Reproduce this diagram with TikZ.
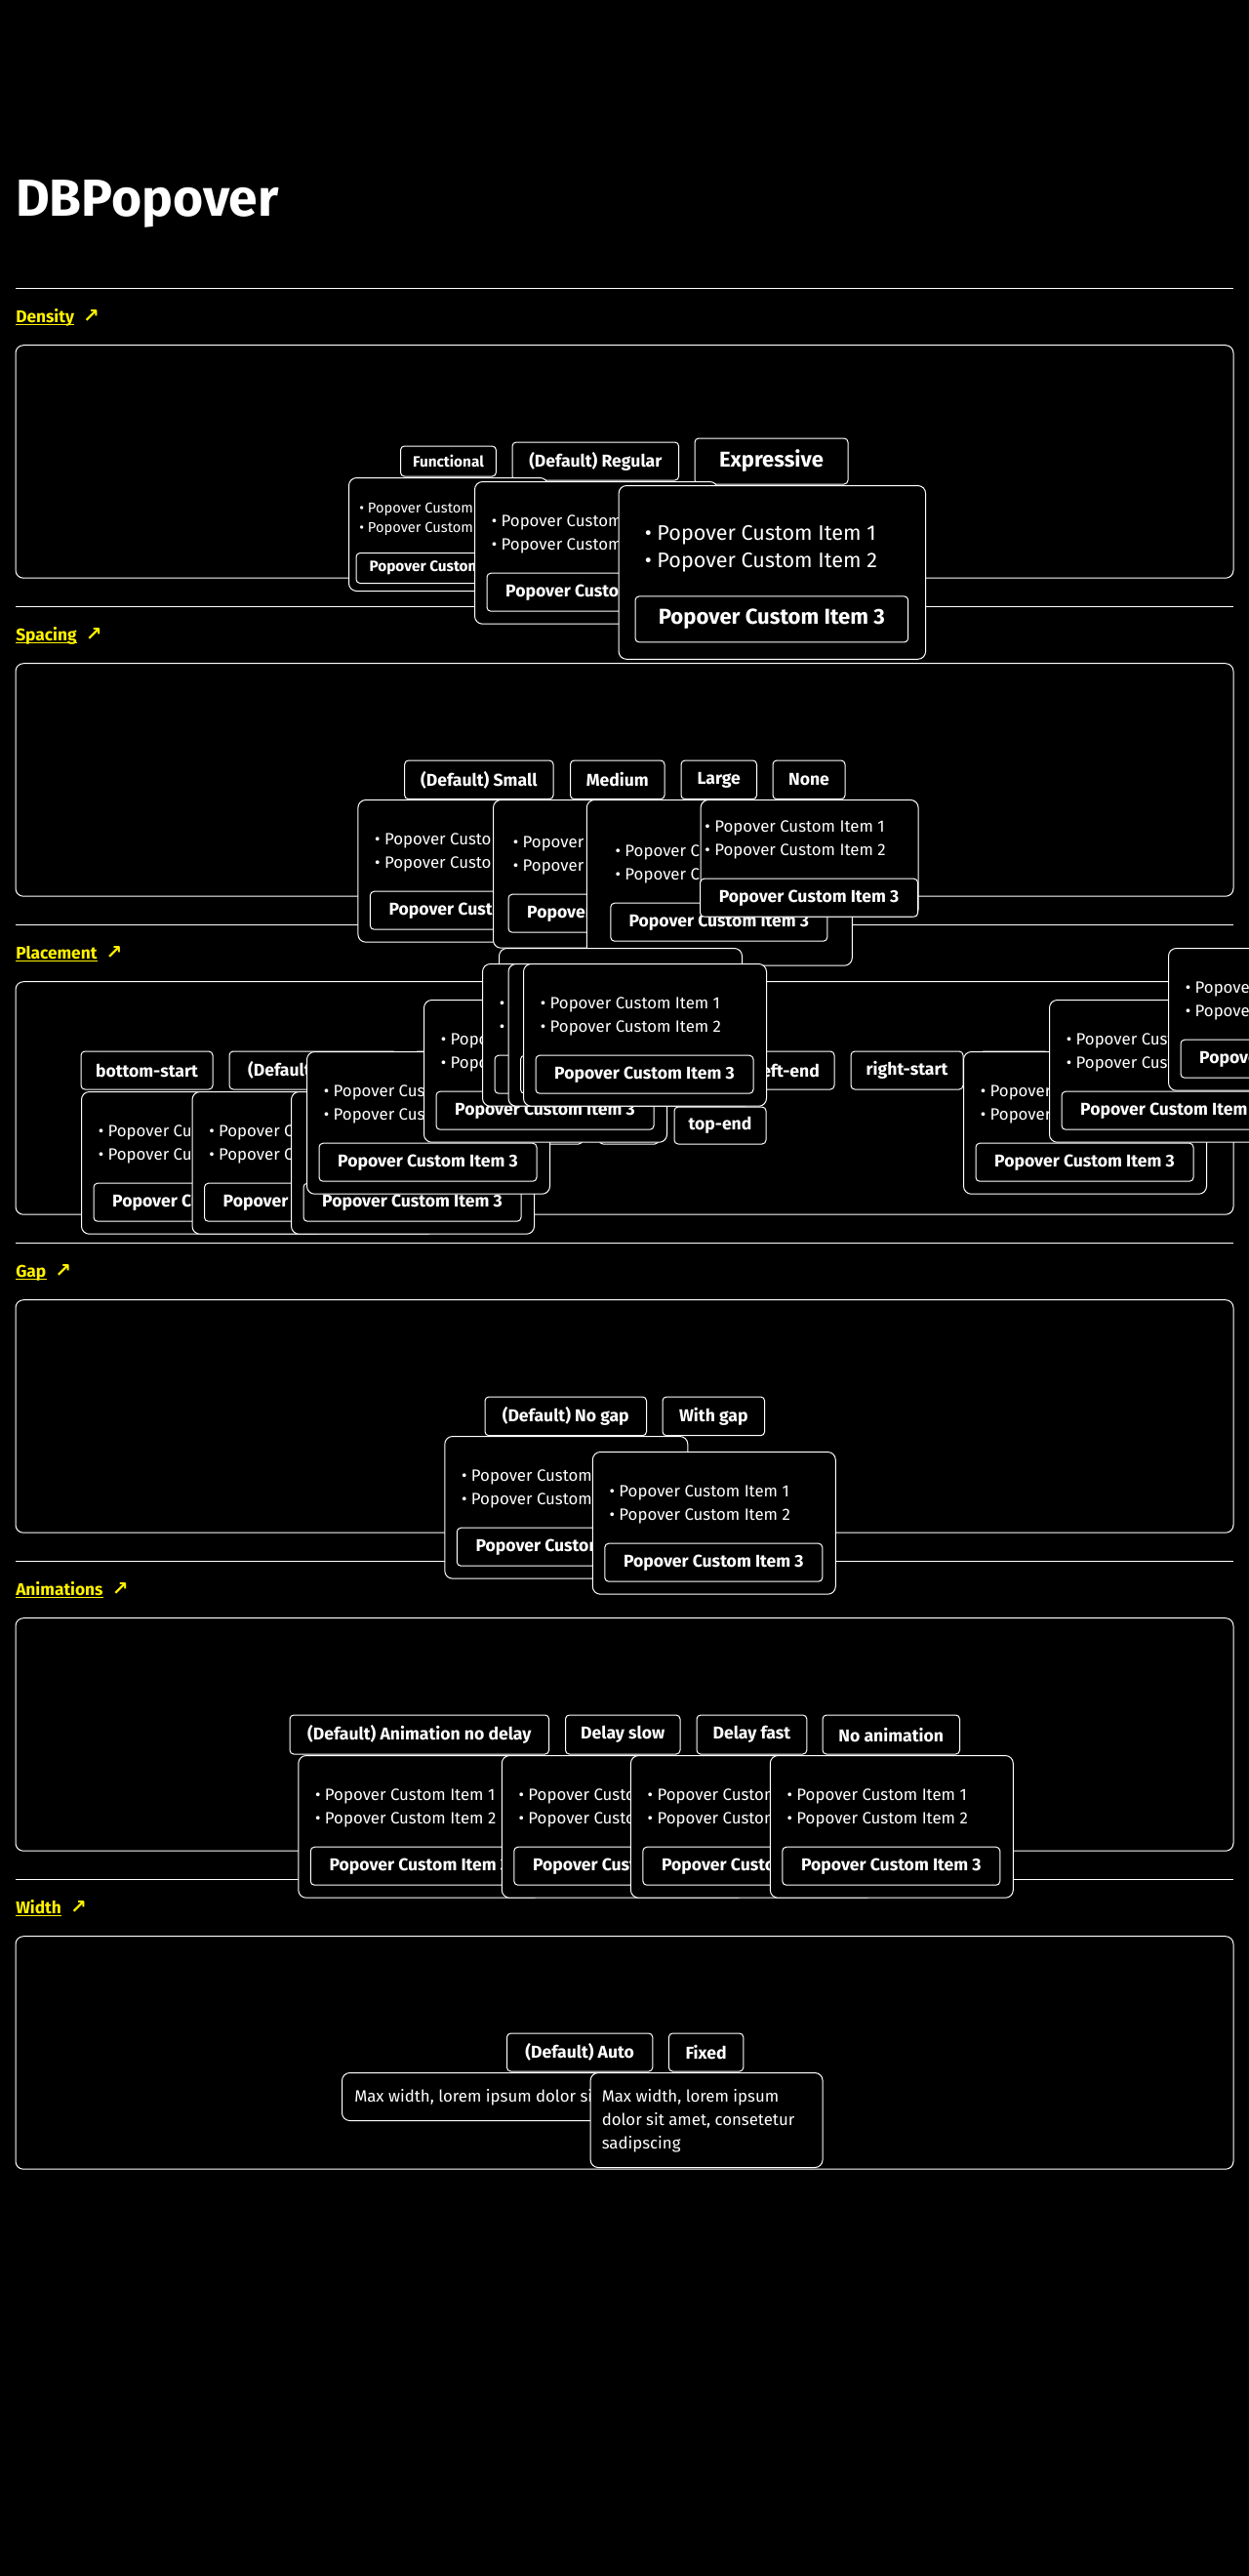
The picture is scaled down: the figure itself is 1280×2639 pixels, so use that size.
\documentclass[tikz,border=0pt]{standalone}
\usepackage{fontspec}
\setmainfont{Fira Sans}
\newfontfamily\arrowfont{DejaVu Sans}

\newcommand\px{0.75pt}
% popover looks: padding, list offset, line step, gap, button height, indent, fonts
\newcommand\denseregular{\def\popP{13}\def\popT{29.7}\def\popS{24}\def\popG{27}\def\popB{39}\def\popI{4.5}%
  \def\popFont{\fontsize{12.6}{15}\selectfont}\def\popBold{\bfseries\fontsize{13.2}{15}\selectfont}}
\newcommand\densefunctional{\def\popP{8}\def\popT{25}\def\popS{20}\def\popG{24}\def\popB{31}\def\popI{3}%
  \def\popFont{\fontsize{11}{13}\selectfont}\def\popBold{\bfseries\fontsize{11.5}{13}\selectfont}}
\newcommand\denseexpressive{\def\popP{17.4}\def\popT{34}\def\popS{28}\def\popG{34}\def\popB{47}\def\popI{9.5}%
  \def\popFont{\fontsize{16.2}{19}\selectfont}\def\popBold{\bfseries\fontsize{16.6}{19}\selectfont}}
\newcommand\padding[1]{\denseregular\def\popP{#1}}

\tikzset{
  rule/.style={white, line width=0.75pt},
  frame/.style={draw=white, line width=0.75pt, rounded corners=6pt},
  card/.style={draw=white, fill=black, line width=0.75pt, rounded corners=6pt, inner sep=0pt},
  trigger/.style={draw=white, fill=black, line width=0.75pt, rounded corners=3pt, inner sep=0pt,
    text=white, font=\bfseries\fontsize{13.2}{15}\selectfont},
  item/.style={text=white, inner sep=0pt, anchor=west, font=\fontsize{12.6}{15}\selectfont},
  heading/.style={text=yellow, inner sep=0pt, anchor=base west, font=\bfseries\fontsize{13}{15}\selectfont},
  link/.style={yellow, line width=0.9pt}
}

% trigger button from its corners
\newcommand{\trig}[6][]{%
  \node[trigger, #1, minimum width={(#5-#3)*\px}, minimum height={(#6-#4)*\px}]
    (#2) at ({(#3+#5)/2},{(#4+#6)/2}) {\trigtext};}
\newcommand{\trigger}[7][]{\def\trigtext{#7}\trig[#1]{#2}{#3}{#4}{#5}{#6}}

% popover: name, left, top, width
\newcommand{\popover}[5][\denseregular]{%
  \begingroup#1%
  \pgfmathsetmacro\ya{#4+\popP+\popT}%
  \pgfmathsetmacro\yb{\ya+\popS}%
  \pgfmathsetmacro\yc{\yb+\popG}%
  \pgfmathsetmacro\yd{\yc+\popB+\popP}%
  \node[card, anchor=north west, minimum width={#5*\px}, minimum height={(\yd-#4)*\px}] (#2) at (#3,#4) {};
  \node[item, font=\popFont] (#2-1) at (#3+\popP+\popI,\ya) {• Popover Custom Item 1};
  \node[item, font=\popFont] (#2-2) at (#3+\popP+\popI,\yb) {• Popover Custom Item 2};
  \node[trigger, font=\popBold, anchor=north, minimum width={(#5-2*\popP)*\px}, minimum height={\popB*\px}]
    (#2-3) at (#3+#5/2,\yc) {Popover Custom Item 3};
  \endgroup}

\begin{document}
\begin{tikzpicture}[x=0.75pt, y=-0.75pt]
\useasboundingbox[fill=black] (0,0) rectangle (1280,2639);

\node[anchor=base west, inner sep=0pt, text=white, font=\bfseries\fontsize{40}{48}\selectfont] (title) at (16,221.7) {DBPopover};

% sections
\foreach \name [count=\i from 0] in {Density,Spacing,Placement,Gap,Animations,Width}{
  \pgfmathsetmacro\yy{295.7+326*\i}
  \draw[rule] (16,\yy) -- (1264,\yy);
  \node[heading] (head\i) at (16,\yy+35) {\name};
  \draw[link] ([yshift=-1.6pt]head\i.base west) -- ([yshift=-1.6pt]head\i.base east);
  \node[heading, font=\arrowfont\bfseries\fontsize{15}{17}\selectfont] (go\i) at ([xshift=6.5pt]head\i.base east) {↗};
  \draw[frame] (16,\yy+58) rectangle (1264,\yy+296.5);
}

% density
\trigger[font=\bfseries\fontsize{11.5}{13}\selectfont]{dfun}{410.5}{457}{508.4}{488}{Functional}
\trigger{dreg}{525}{453}{695.6}{492}{(Default) Regular}
\trigger[font=\bfseries\fontsize{16.5}{19}\selectfont]{dexp}{712}{449}{869}{496}{Expressive}
\popover[\densefunctional]{pfun}{357}{489}{204}
\popover{preg}{486}{493}{249}
\popover[\denseexpressive]{pexp}{633.6}{497}{314.5}

% spacing
\trigger{ssma}{414.7}{779}{567}{818.7}{(Default) Small}
\trigger{smed}{584.5}{779}{681}{818.7}{Medium}
\trigger{slar}{698}{779}{775.5}{818.7}{Large}
\trigger{snon}{792}{779}{866}{818.7}{None}
\popover{psma}{366.4}{819}{249}
\popover[\padding{16}]{pmed}{505}{819}{255}
\popover[\padding{25}]{plar}{600.8}{819}{272}
\popover[\padding{0}]{pnon}{717.6}{819}{223}

% placement
\trigger{bs}{83}{1077}{218}{1116}{bottom-start}
\trigger{bd}{235}{1077}{407}{1116}{(Default) bottom}
\trigger{be}{424}{1077}{547}{1116}{bottom-end}
\trigger{ls}{564}{1077}{666}{1116}{left-start}
\trigger{lc}{683}{1077}{743}{1116}{left}
\trigger{le}{760}{1077}{855}{1116}{left-end}
\trigger{rs}{872}{1077}{987}{1116}{right-start}
\trigger{rc}{1004}{1077}{1075}{1116}{right}
\trigger{re}{1092}{1077}{1197}{1116}{right-end}
\trigger{ts}{494}{1134}{597}{1172}{top-start}
\trigger{tc}{614}{1134}{675}{1172}{top}
\trigger{te}{691}{1134}{785}{1172}{top-end}
\popover{pbs}{83}{1118}{249}
\popover{pbd}{196.5}{1118}{249}
\popover{pbe}{298}{1118}{249}
\popover{pls}{314}{1077}{249}
\popover{plc}{434}{1024}{249}
\popover{ple}{511}{971}{249}
\popover{prs}{987}{1077}{249}
\popover{prc}{1075}{1024}{249}
\popover{pre}{1197}{971}{249}
\popover{pts}{494}{987}{249}
\popover{ptc}{520.5}{987}{249}
\popover{pte}{536}{987}{249}

% gap
\trigger{gno}{497}{1431}{662.5}{1470.7}{(Default) No gap}
\trigger{gwi}{679}{1431}{783.6}{1470.7}{With gap}
\popover{pgno}{455.3}{1471}{249}
\popover{pgwi}{606.8}{1487}{249}

% animations
\trigger{ano}{297}{1757}{562.6}{1797}{(Default) Animation no delay}
\trigger{asl}{579.5}{1757}{697}{1797}{Delay slow}
\trigger{afa}{714}{1757}{826.8}{1797}{Delay fast}
\trigger{ana}{843}{1757}{983.5}{1797}{No animation}
\popover{pano}{305.3}{1798}{249}
\popover{pasl}{513.8}{1798}{249}
\popover{pafa}{645.9}{1798}{249}
\popover{pana}{788.8}{1798}{249}

% width
\trigger{wau}{519.5}{2083}{668.8}{2122}{(Default) Auto}
\trigger{wfi}{685.4}{2083}{761.8}{2122}{Fixed}
\node[card, anchor=north west, minimum width={488*\px}, minimum height={49*\px}] (pwau) at (350,2123) {};
\node[item] (pwau-1) at (363,2149) {Max width, lorem ipsum dolor sit amet, consetetur sadipscing};
\node[card, anchor=north west, minimum width={238*\px}, minimum height={97*\px}] (pwfi) at (604.6,2123) {};
\node[item, align=left, font=\fontsize{12.6}{18}\selectfont] (pwfi-1) at (616.5,2173) {Max width, lorem ipsum\\dolor sit amet, consetetur\\sadipscing};
\end{tikzpicture}
\end{document}
